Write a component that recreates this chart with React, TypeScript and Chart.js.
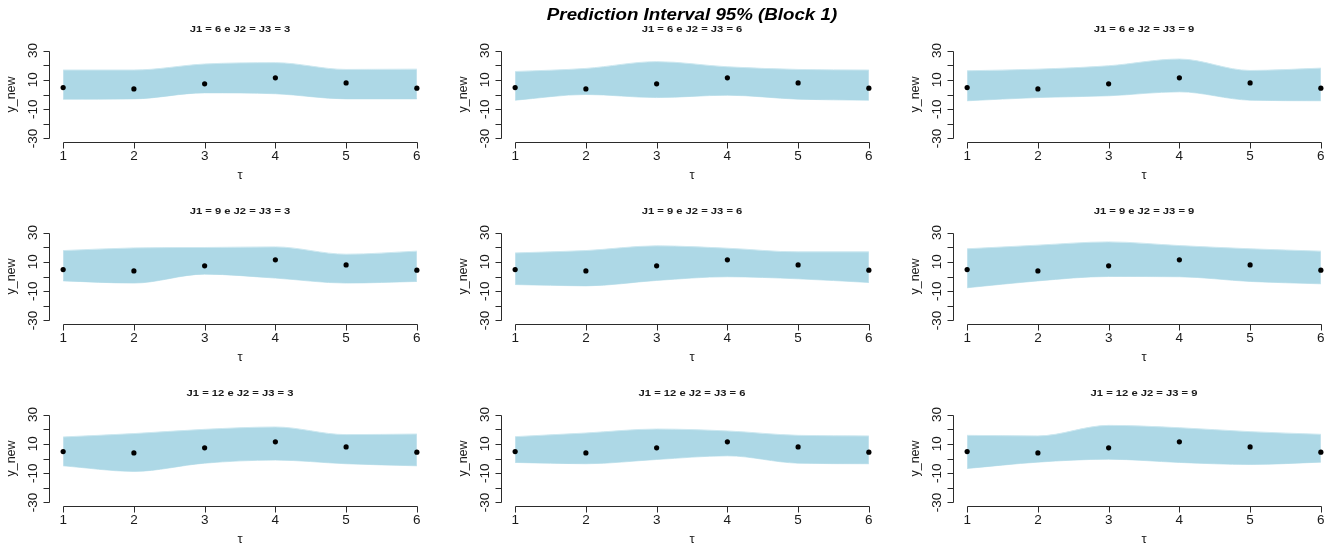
import React, { useEffect, useRef } from "react";
import { Chart, registerables } from "chart.js";

Chart.register(...registerables);

// Forecast horizon and the observed values shown as points in every panel
const tau = [1, 2, 3, 4, 5, 6];
const yObserved = [4.7, 3.8, 7.3, 11.4, 7.9, 4.3];

// Panel titles, row by row
const panelTitles = [
  "J1 = 6 e J2 = J3 = 3", "J1 = 6 e J2 = J3 = 6", "J1 = 6 e J2 = J3 = 9",
  "J1 = 9 e J2 = J3 = 3", "J1 = 9 e J2 = J3 = 6", "J1 = 9 e J2 = J3 = 9",
  "J1 = 12 e J2 = J3 = 3", "J1 = 12 e J2 = J3 = 6", "J1 = 12 e J2 = J3 = 9",
];

// 95% interval bounds per configuration
const upper_6_3 = [16.7, 16.7, 20.8, 21.7, 17.1, 17.3];
const lower_6_3 = [-3.2, -3.0, 1.1, 0.5, -3.0, -3.0];
const upper_6_6 = [15.7, 17.8, 22.4, 18.9, 17.1, 16.7];
const lower_6_6 = [-3.9, 0.0, -2.1, -0.5, -3.2, -3.9];
const upper_6_9 = [16.2, 17.3, 19.6, 24.2, 16.4, 18.0];
const lower_6_9 = [-4.3, -2.1, -0.9, 1.8, -3.9, -4.3];
const upper_9_3 = [17.7, 19.5, 19.8, 20.2, 15.2, 17.3];
const lower_9_3 = [-3.0, -4.5, 1.6, -1.1, -4.5, -3.4];
const upper_9_6 = [16.1, 17.7, 20.9, 19.3, 16.8, 16.8];
const lower_9_6 = [-5.5, -6.4, -2.7, -0.2, -1.6, -4.1];
const upper_9_9 = [18.9, 21.4, 23.6, 21.1, 18.9, 17.3];
const lower_9_9 = [-7.7, -3.0, 0.0, -0.2, -3.4, -5.0];
const upper_12_3 = [14.7, 17.0, 19.9, 21.5, 16.3, 16.7];
const lower_12_3 = [-5.0, -8.8, -3.2, -1.1, -3.6, -5.0];
const upper_12_6 = [14.9, 17.4, 20.1, 18.8, 15.8, 15.4];
const lower_12_6 = [-2.7, -3.6, -0.7, 1.8, -3.2, -3.6];
const upper_12_9 = [15.8, 15.4, 22.6, 21.0, 18.3, 16.5];
const lower_12_9 = [-6.8, -2.5, -0.5, -2.7, -4.1, -2.5];

const uppers = [upper_6_3, upper_6_6, upper_6_9, upper_9_3, upper_9_6, upper_9_9, upper_12_3, upper_12_6, upper_12_9];
const lowers = [lower_6_3, lower_6_6, lower_6_9, lower_9_3, lower_9_6, lower_9_9, lower_12_3, lower_12_6, lower_12_9];

// Axis ticks
const yTicks = [30, 20, 10, 0, -10, -20, -30];
const yTickLabels = [30, 10, -10, -30];
const xTickLabels = [1, 2, 3, 4, 5, 6];

const mainTitle = "Prediction Interval 95% (Block 1)";
const xLabel = "τ";
const yLabel = "y_new";

const FONT = '"Liberation Sans", Arial, Helvetica, sans-serif';
const PANEL_W = 452;
const PANEL_H = 182;

// Draw text with a horizontal stretch factor around its centre
function wideText(ctx: CanvasRenderingContext2D, text: string, cx: number, cy: number, sx: number) {
  ctx.save();
  ctx.translate(cx, cy);
  ctx.scale(sx, 1);
  ctx.fillText(text, 0, 0);
  ctx.restore();
}

// Base-graphics style axes: lines span first to last tick only
const baseAxes = {
  id: "baseAxes",
  afterDraw(chart: any, _args: any, opts: any) {
    const { ctx, chartArea, scales } = chart;
    const x = scales.x;
    const y = scales.y;
    ctx.save();
    ctx.strokeStyle = "#2b2b2b";
    ctx.fillStyle = "#1a1a1a";
    ctx.lineWidth = 1;

    // y axis
    const ax = Math.round(chartArea.left) + 0.5;
    ctx.beginPath();
    ctx.moveTo(ax, Math.round(y.getPixelForValue(30)) + 0.5);
    ctx.lineTo(ax, Math.round(y.getPixelForValue(-30)) + 0.5);
    for (const v of yTicks) {
      const py = Math.round(y.getPixelForValue(v)) + 0.5;
      ctx.moveTo(ax, py);
      ctx.lineTo(ax - 6, py);
    }
    // x axis
    const by = Math.round(chartArea.bottom) + 0.5;
    ctx.moveTo(Math.round(x.getPixelForValue(1)) + 0.5, by);
    ctx.lineTo(Math.round(x.getPixelForValue(6)) + 0.5, by);
    for (const v of xTickLabels) {
      const px = Math.round(x.getPixelForValue(v)) + 0.5;
      ctx.moveTo(px, by);
      ctx.lineTo(px, by + 6);
    }
    ctx.stroke();

    ctx.textAlign = "center";
    ctx.textBaseline = "middle";
    ctx.font = `13.5px ${FONT}`;
    for (const v of yTickLabels) {
      ctx.save();
      ctx.translate(ax - 16, y.getPixelForValue(v));
      ctx.rotate(-Math.PI / 2);
      ctx.fillText(String(v), 0, 0);
      ctx.restore();
    }
    for (const v of xTickLabels) {
      ctx.fillText(String(v), x.getPixelForValue(v), chartArea.bottom + 14);
    }
    const cx = (chartArea.left + chartArea.right) / 2;
    ctx.font = `13px ${FONT}`;
    ctx.fillText(xLabel, cx, chartArea.bottom + 33);
    ctx.save();
    ctx.translate(chartArea.left - 37, (chartArea.top + chartArea.bottom) / 2);
    ctx.rotate(-Math.PI / 2);
    ctx.font = `12.5px ${FONT}`;
    ctx.fillText(yLabel, 0, 0);
    ctx.restore();

    ctx.font = `bold 9.5px ${FONT}`;
    wideText(ctx, opts.title, cx, chartArea.top - 18, 1.18);

    if (opts.main) {
      ctx.font = `italic bold 16px ${FONT}`;
      ctx.fillStyle = "#000";
      wideText(ctx, opts.main, cx, 15.5, 1.17);
    }
    ctx.restore();
  },
};

function Panel({ index }: { index: number }) {
  const ref = useRef<HTMLCanvasElement | null>(null);
  useEffect(() => {
    if (!ref.current) return;
    const chart = new Chart(ref.current, {
      type: "line",
      data: {
        labels: tau,
        datasets: [
          {
            data: uppers[index],
            fill: "+1",
            backgroundColor: "#add8e6",
            borderColor: "rgba(205,232,240,1)",
            borderWidth: 1,
            pointRadius: 0,
            cubicInterpolationMode: "monotone",
            order: 2,
          },
          {
            data: lowers[index],
            fill: false,
            borderColor: "rgba(205,232,240,1)",
            borderWidth: 1,
            pointRadius: 0,
            cubicInterpolationMode: "monotone",
            order: 2,
          },
          {
            data: yObserved,
            showLine: false,
            fill: false,
            pointRadius: 2.6,
            pointBackgroundColor: "#000",
            pointBorderColor: "#000",
            pointBorderWidth: 0,
            order: 1,
          },
        ],
      } as any,
      options: {
        animation: false,
        responsive: false,
        devicePixelRatio: 1,
        events: [],
        layout: { padding: { left: 49, right: 21, top: 47, bottom: 40 } },
        scales: {
          x: { type: "linear", min: 0.8, max: 6.2, display: false },
          y: { type: "linear", min: -32.4, max: 32.4, display: false },
        },
        plugins: {
          legend: { display: false },
          tooltip: { enabled: false },
          baseAxes: { title: panelTitles[index], main: index === 1 ? mainTitle : null },
        } as any,
      },
      plugins: [baseAxes],
    });
    return () => chart.destroy();
  }, [index]);
  const col = index % 3;
  const row = Math.floor(index / 3);
  return (
    <canvas
      ref={ref}
      width={PANEL_W}
      height={PANEL_H}
      style={{ position: "absolute", left: col * PANEL_W, top: row * PANEL_H, width: PANEL_W, height: PANEL_H }}
    />
  );
}

export default function App() {
  return (
    <div style={{ position: "absolute", left: 0, top: 0, width: 1336, height: 546, background: "#fff" }}>
      {panelTitles.map((_, i) => (
        <Panel key={i} index={i} />
      ))}
    </div>
  );
}
